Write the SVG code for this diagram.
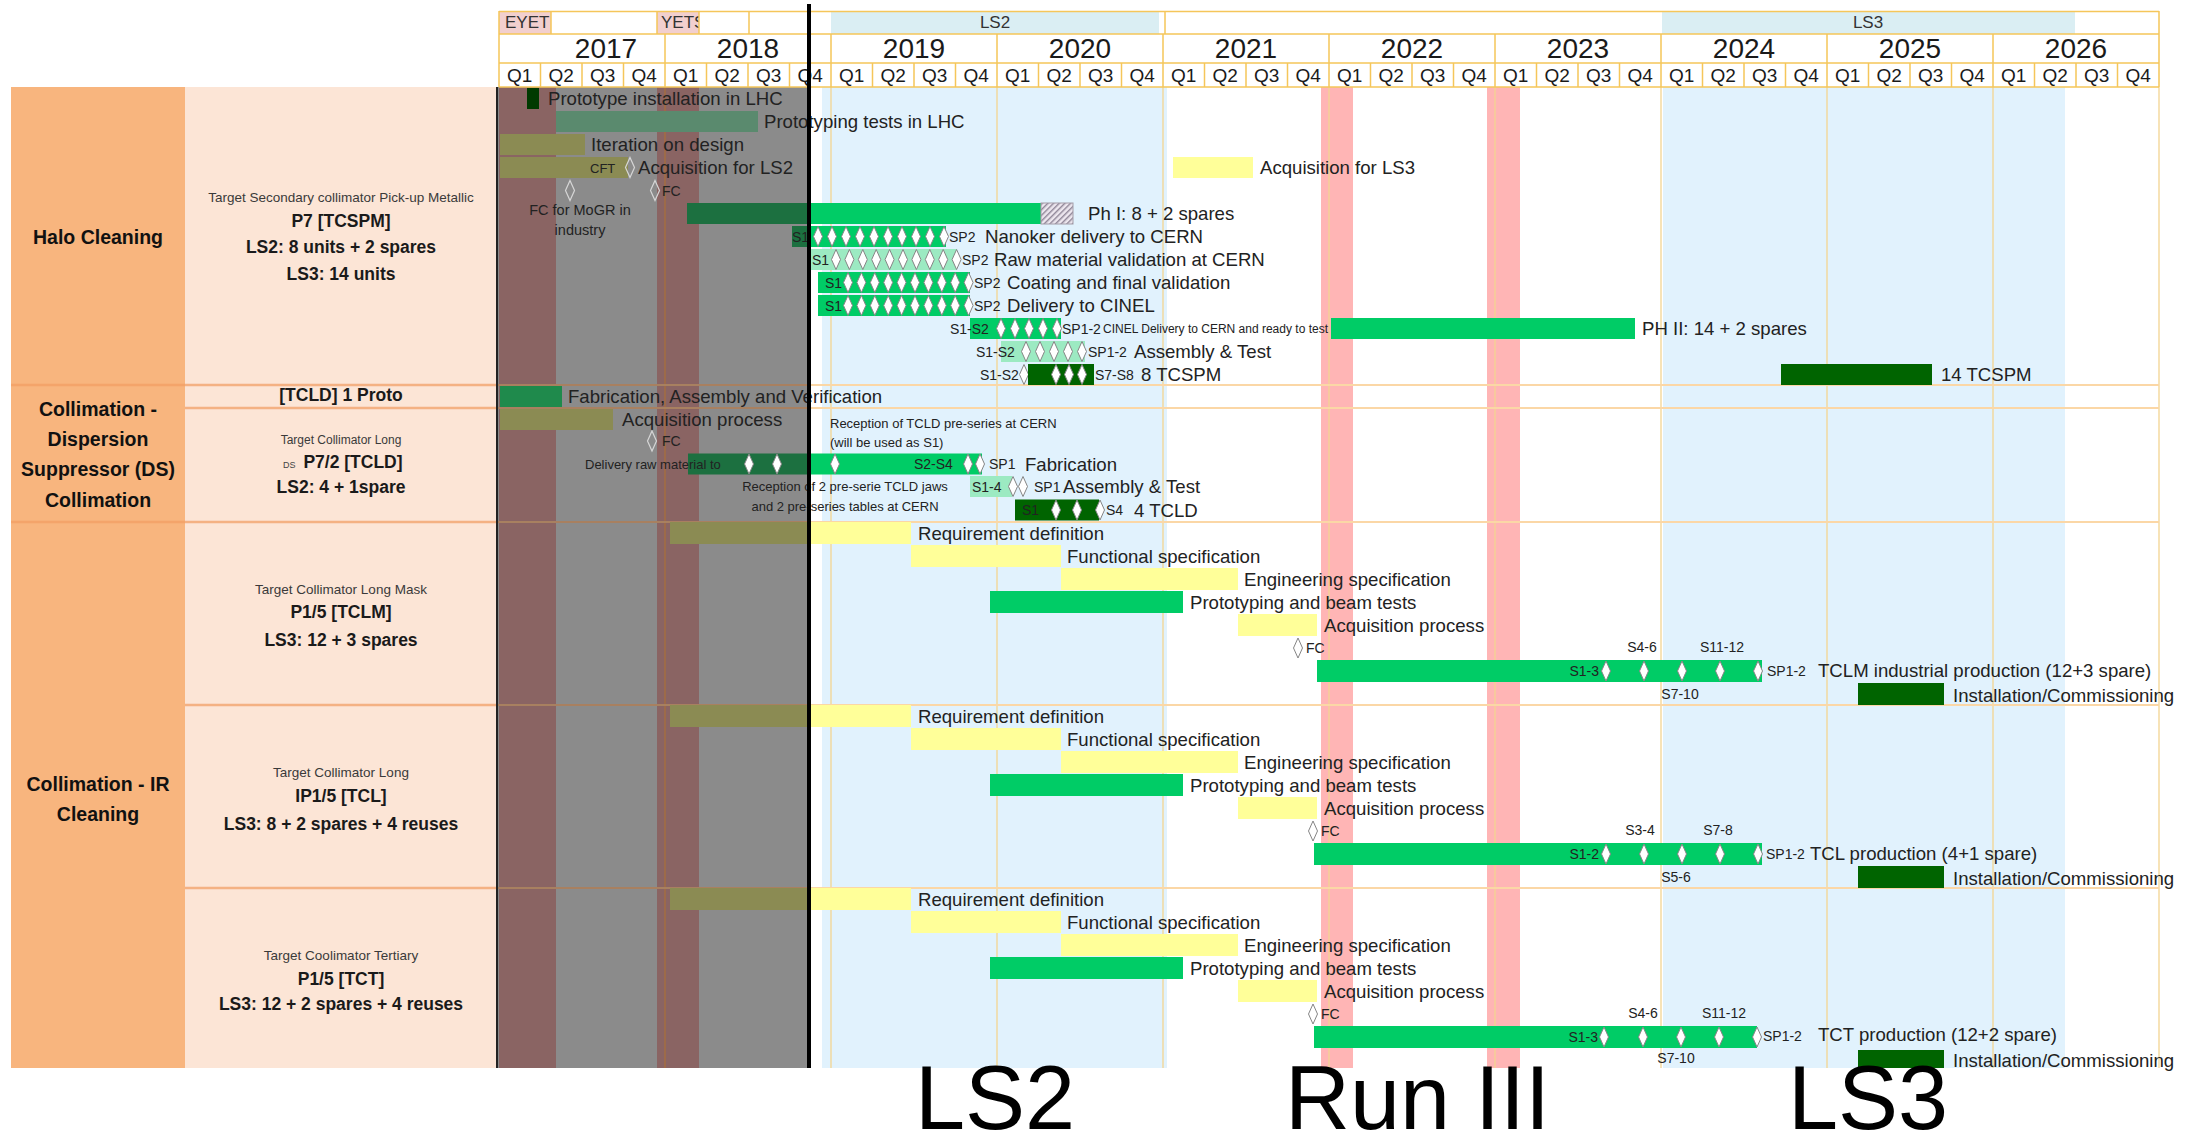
<svg xmlns="http://www.w3.org/2000/svg" width="2190" height="1148" viewBox="0 0 2190 1148">
<defs>
<style>
text{font-family:"Liberation Sans",Arial,sans-serif;fill:#222}
.l{font-size:18.6px;dominant-baseline:central}
.s{font-size:14px;dominant-baseline:central}
.se{font-size:14px;dominant-baseline:central;text-anchor:end}
.sm{font-size:14px;dominant-baseline:central;text-anchor:middle}
.xs{font-size:13px;dominant-baseline:central}
.xm{font-size:13px;dominant-baseline:central;text-anchor:middle}
.xt{font-size:12px;dominant-baseline:central}
.cat{font-size:19.5px;font-weight:bold;text-anchor:middle;dominant-baseline:central;fill:#111}
.sub{font-size:13.5px;text-anchor:middle;dominant-baseline:central;fill:#3a3a3a}
.bd{font-size:17.5px;font-weight:bold;text-anchor:middle;dominant-baseline:central;fill:#1a1a1a}
.yr{font-size:28px;text-anchor:middle;fill:#1a1a1a}
.q{font-size:19px;text-anchor:middle;fill:#1a1a1a}
.hd{font-size:17px;dominant-baseline:central;fill:#333}
.hm{font-size:17px;dominant-baseline:central;text-anchor:middle;fill:#333}
.big{font-family:"Liberation Sans",Arial,sans-serif;font-size:90px;fill:#000}
.yb{fill:#ffff99}.yd{fill:#8b8b53}
.gb{fill:#00cc66}.gd{fill:#1c7040}
.dg{fill:#006400}
.mg{fill:#9ceac2}
.dm{fill:#fff;stroke:#858585;stroke-width:1}
.dmg{fill:none;stroke:#d6d6d6;stroke-width:1.2}
.hl{fill:none;stroke:#f5c65a;stroke-width:1.5}
</style>
<path id="d" class="dm" d="M0,-10L4.5,0L0,10L-4.5,0Z"/>
<path id="dgr" class="dmg" d="M0,-10L4.5,0L0,10L-4.5,0Z"/>
<pattern id="hatch" width="4" height="4" patternUnits="userSpaceOnUse" patternTransform="rotate(45)">
<rect width="4" height="4" fill="#ece6ee"/><rect width="1.4" height="4" fill="#8e8496"/>
</pattern>
<clipPath id="cy"><rect x="657" y="11" width="42" height="23"/></clipPath>
</defs>

<rect x="0" y="0" width="2190" height="1148" fill="#fff"/>

<g id="background">
<rect x="11" y="87" width="174" height="981" fill="#f8b57e"/>
<rect x="185" y="87" width="311" height="981" fill="#fce5d6"/>
<rect x="496" y="87" width="313" height="981" fill="#8b8b8b"/>
<rect x="499" y="87" width="57" height="981" fill="#8a6463"/>
<rect x="657" y="87" width="42" height="981" fill="#8a6463"/>
<rect x="822" y="87" width="345" height="981" fill="#e1f2fd"/>
<rect x="1663" y="87" width="402" height="981" fill="#e1f2fd"/>
<rect x="1321" y="87" width="32" height="981" fill="#ffb5b5"/>
<rect x="1487" y="87" width="33" height="981" fill="#ffb5b5"/>
<path d="M831 87V1068M997 87V1068M1163 87V1068M1329 87V1068M1495 87V1068M1661 87V1068M1827 87V1068M1993 87V1068M2159 87V1068" stroke="#f3d592" stroke-width="1.3" fill="none"/>
<path d="M665 87V1068" stroke="#a86f3c" stroke-width="1.3"/>
<path d="M496 385H809M496 408H809M496 522H809M496 705H809M496 888H809" stroke="#a88060" stroke-width="2"/>
<path d="M809 385H2159M809 408H2159M809 522H2159M809 705H2159M809 888H2159" stroke="#fbd7a6" stroke-width="2"/>
<path d="M185 385H496M185 408H496M185 522H496M185 705H496M185 888H496" stroke="#f4b183" stroke-width="2.5"/>
<path d="M11 385H185M11 522H185" stroke="#f4a46a" stroke-width="2.5"/>
</g>

<g id="categories">
<g id="cat-halo"><text class="cat" x="98" y="237">Halo Cleaning</text></g>
<g id="cat-ds">
<text class="cat" x="98" y="409">Collimation -</text>
<text class="cat" x="98" y="439">Dispersion</text>
<text class="cat" x="98" y="469">Suppressor (DS)</text>
<text class="cat" x="98" y="500">Collimation</text>
</g>
<g id="cat-ir">
<text class="cat" x="98" y="784">Collimation - IR</text>
<text class="cat" x="98" y="814">Cleaning</text>
</g>
</g>

<g id="items">
<g id="item-tcspm">
<text class="sub" x="341" y="197">Target Secondary collimator Pick-up Metallic</text>
<text class="bd" x="341" y="221">P7 [TCSPM]</text>
<text class="bd" x="341" y="247">LS2: 8 units + 2 spares</text>
<text class="bd" x="341" y="274">LS3: 14 units</text>
</g>
<g id="item-tcld-proto"><text class="bd" x="341" y="395">[TCLD] 1 Proto</text></g>
<g id="item-tcld">
<text class="sub" x="341" y="440" style="font-size:12px">Target Collimator Long</text>
<text x="283" y="465" style="font-size:9px;dominant-baseline:central;fill:#444">DS</text>
<text class="bd" x="353" y="462">P7/2 [TCLD]</text>
<text class="bd" x="341" y="487">LS2: 4 + 1spare</text>
</g>
<g id="item-tclm">
<text class="sub" x="341" y="589">Target Collimator Long Mask</text>
<text class="bd" x="341" y="612">P1/5 [TCLM]</text>
<text class="bd" x="341" y="640">LS3: 12 + 3 spares</text>
</g>
<g id="item-tcl">
<text class="sub" x="341" y="772">Target Collimator Long</text>
<text class="bd" x="341" y="796">IP1/5 [TCL]</text>
<text class="bd" x="341" y="824">LS3: 8 + 2 spares + 4 reuses</text>
</g>
<g id="item-tct">
<text class="sub" x="341" y="955">Target Coolimator Tertiary</text>
<text class="bd" x="341" y="979">P1/5 [TCT]</text>
<text class="bd" x="341" y="1004">LS3: 12 + 2 spares + 4 reuses</text>
</g>
</g>

<g id="tasks-tcspm">
<rect x="527" y="88" width="12" height="21" fill="#003a00"/>
<text class="l" x="548" y="98.5">Prototype installation in LHC</text>
<rect x="556" y="111" width="202" height="21" fill="#5a8a6e"/>
<text class="l" x="764" y="121.5">Prototyping tests in LHC</text>
<rect x="500" y="134" width="85" height="21" class="yd"/>
<text class="l" x="591" y="144.5">Iteration on design</text>
<rect x="500" y="157" width="128" height="21" class="yd"/>
<text class="xs" x="590" y="168">CFT</text>
<use href="#dgr" x="630" y="167.5"/>
<text class="l" x="638" y="167.5">Acquisition for LS2</text>
<rect x="1173" y="157" width="80" height="21" class="yb"/>
<text class="l" x="1260" y="167.5">Acquisition for LS3</text>
<use href="#dgr" x="570" y="190.5"/>
<use href="#dgr" x="655" y="190.5"/>
<text class="s" x="662" y="190.5">FC</text>
<text class="sm" x="580" y="210" style="font-size:14.5px">FC for MoGR in</text>
<text class="sm" x="580" y="230" style="font-size:14.5px">industry</text>
<rect x="687" y="203" width="122" height="21" class="gd"/>
<rect x="809" y="203" width="232" height="21" class="gb"/>
<rect x="1041" y="203" width="32" height="21" fill="url(#hatch)" stroke="#a39ca8"/>
<text class="l" x="1088" y="213.5">Ph I: 8 + 2 spares</text>

<rect x="792" y="226" width="17" height="21" class="gd"/>
<rect x="809" y="226" width="137" height="21" class="gb"/>
<text class="s" x="792" y="236.5">S1</text>
<use href="#d" x="818" y="236.5"/><use href="#d" x="832" y="236.5"/><use href="#d" x="846" y="236.5"/><use href="#d" x="860" y="236.5"/><use href="#d" x="874" y="236.5"/><use href="#d" x="888" y="236.5"/><use href="#d" x="902" y="236.5"/><use href="#d" x="916" y="236.5"/><use href="#d" x="930" y="236.5"/><use href="#d" x="944" y="236.5"/>
<text class="s" x="949" y="236.5">SP2</text>
<text class="l" x="985" y="236.5">Nanoker delivery to CERN</text>

<rect x="811" y="249" width="146" height="21" class="mg"/>
<text class="s" x="812" y="259.5">S1</text>
<use href="#d" x="836" y="259.5"/><use href="#d" x="849.4" y="259.5"/><use href="#d" x="862.8" y="259.5"/><use href="#d" x="876.2" y="259.5"/><use href="#d" x="889.6" y="259.5"/><use href="#d" x="903" y="259.5"/><use href="#d" x="916.4" y="259.5"/><use href="#d" x="929.8" y="259.5"/><use href="#d" x="943.2" y="259.5"/><use href="#d" x="956.6" y="259.5"/>
<text class="s" x="962" y="259.5">SP2</text>
<text class="l" x="994" y="259.5">Raw material validation at CERN</text>

<rect x="818" y="272" width="152" height="21" class="gb"/>
<text class="s" x="825" y="282.5">S1</text>
<use href="#d" x="848" y="282.5"/><use href="#d" x="861.4" y="282.5"/><use href="#d" x="874.8" y="282.5"/><use href="#d" x="888.2" y="282.5"/><use href="#d" x="901.6" y="282.5"/><use href="#d" x="915" y="282.5"/><use href="#d" x="928.4" y="282.5"/><use href="#d" x="941.8" y="282.5"/><use href="#d" x="955.2" y="282.5"/><use href="#d" x="968.6" y="282.5"/>
<text class="s" x="974" y="282.5">SP2</text>
<text class="l" x="1007" y="282.5">Coating and final validation</text>

<rect x="818" y="295" width="152" height="21" class="gb"/>
<text class="s" x="825" y="305.5">S1</text>
<use href="#d" x="848" y="305.5"/><use href="#d" x="861.4" y="305.5"/><use href="#d" x="874.8" y="305.5"/><use href="#d" x="888.2" y="305.5"/><use href="#d" x="901.6" y="305.5"/><use href="#d" x="915" y="305.5"/><use href="#d" x="928.4" y="305.5"/><use href="#d" x="941.8" y="305.5"/><use href="#d" x="955.2" y="305.5"/><use href="#d" x="968.6" y="305.5"/>
<text class="s" x="974" y="305.5">SP2</text>
<text class="l" x="1007" y="305.5">Delivery to CINEL</text>

<rect x="970" y="318" width="91" height="21" class="gb"/>
<text class="s" x="950" y="328.5">S1-S2</text>
<use href="#d" x="1001" y="328.5"/><use href="#d" x="1015" y="328.5"/><use href="#d" x="1029" y="328.5"/><use href="#d" x="1043" y="328.5"/><use href="#d" x="1057" y="328.5"/>
<text class="s" x="1062" y="328.5">SP1-2</text>
<text class="xt" x="1103" y="328.5">CINEL Delivery to CERN and ready to test</text>
<rect x="1331" y="318" width="304" height="21" class="gb"/>
<text class="l" x="1642" y="328.5">PH II: 14 + 2 spares</text>

<rect x="1001" y="341" width="84" height="21" class="mg"/>
<text class="s" x="976" y="351.5">S1-S2</text>
<use href="#d" x="1026" y="351.5"/><use href="#d" x="1040" y="351.5"/><use href="#d" x="1054" y="351.5"/><use href="#d" x="1068" y="351.5"/><use href="#d" x="1082" y="351.5"/>
<text class="s" x="1088" y="351.5">SP1-2</text>
<text class="l" x="1134" y="351.5">Assembly &amp; Test</text>

<text class="s" x="980" y="374.5">S1-S2</text>
<use href="#d" x="1024" y="374.5"/>
<rect x="1028" y="364" width="66" height="21" class="dg"/>
<use href="#d" x="1056" y="374.5"/><use href="#d" x="1069" y="374.5"/><use href="#d" x="1082" y="374.5"/>
<text class="s" x="1095" y="374.5">S7-S8</text>
<text class="l" x="1141" y="374.5">8 TCSPM</text>
<rect x="1781" y="364" width="151" height="21" class="dg"/>
<text class="l" x="1941" y="374.5">14 TCSPM</text>
</g>

<g id="tasks-tcld-proto">
<rect x="500" y="386" width="62" height="21" fill="#1f8a4c"/>
<text class="l" x="568" y="396.5">Fabrication, Assembly and Verification</text>
</g>

<g id="tasks-tcld">
<rect x="500" y="409" width="113" height="21" class="yd"/>
<text class="l" x="622" y="419">Acquisition process</text>
<use href="#dgr" x="652" y="441"/>
<text class="s" x="662" y="441">FC</text>
<text class="xs" x="830" y="423">Reception of TCLD pre-series at CERN</text>
<text class="xs" x="830" y="442">(will be used as S1)</text>
<rect x="688" y="453.5" width="121" height="21" class="gd"/>
<rect x="809" y="453.5" width="173" height="21" class="gb"/>
<text class="xs" x="585" y="464">Delivery raw material to</text>
<use href="#d" x="749" y="464"/><use href="#d" x="777" y="464"/><use href="#d" x="835" y="464"/><use href="#d" x="968" y="464"/><use href="#d" x="980" y="464"/>
<text class="s" x="914" y="464">S2-S4</text>
<text class="s" x="989" y="464">SP1</text>
<text class="l" x="1025" y="464">Fabrication</text>
<text class="xm" x="845" y="486">Reception of 2 pre-serie TCLD jaws</text>
<text class="xm" x="845" y="506">and 2 pre-series tables at CERN</text>
<rect x="970" y="476" width="42" height="21" class="mg"/>
<text class="s" x="972" y="486.5">S1-4</text>
<use href="#d" x="1013" y="486.5"/><use href="#d" x="1023" y="486.5"/>
<text class="s" x="1034" y="486.5">SP1</text>
<text class="l" x="1063" y="486.5">Assembly &amp; Test</text>
<rect x="1015" y="499.5" width="84" height="21" class="dg"/>
<text class="s" x="1022" y="510">S1</text>
<use href="#d" x="1056" y="510"/><use href="#d" x="1077" y="510"/><use href="#d" x="1100" y="510"/>
<text class="s" x="1106" y="510">S4</text>
<text class="l" x="1134" y="510">4 TCLD</text>
</g>

<g id="tasks-tclm">
<rect x="670" y="522" width="139" height="22" class="yd"/>
<rect x="809" y="522" width="102" height="22" class="yb"/>
<text class="l" x="918" y="533">Requirement definition</text>
<rect x="911" y="545" width="150" height="22" class="yb"/>
<text class="l" x="1067" y="556">Functional specification</text>
<rect x="1061" y="568" width="177" height="22" class="yb"/>
<text class="l" x="1244" y="579">Engineering specification</text>
<rect x="990" y="591" width="193" height="22" class="gb"/>
<text class="l" x="1190" y="602">Prototyping and beam tests</text>
<rect x="1238" y="614" width="79" height="22" class="yb"/>
<text class="l" x="1324" y="625">Acquisition process</text>
<use href="#d" x="1298" y="648"/>
<text class="s" x="1306" y="648">FC</text>
<text class="sm" x="1642" y="647">S4-6</text>
<text class="sm" x="1722" y="647">S11-12</text>
<rect x="1317" y="660" width="445" height="22" class="gb"/>
<text class="se" x="1599" y="671">S1-3</text>
<use href="#d" x="1606" y="671"/><use href="#d" x="1644" y="671"/><use href="#d" x="1682" y="671"/><use href="#d" x="1720" y="671"/><use href="#d" x="1758" y="671"/>
<text class="s" x="1767" y="671">SP1-2</text>
<text class="l" x="1818" y="670">TCLM industrial production (12+3 spare)</text>
<text class="sm" x="1680" y="694">S7-10</text>
<rect x="1858" y="683" width="86" height="22" class="dg"/>
<text class="l" x="1953" y="695">Installation/Commissioning</text>
</g>

<g id="tasks-tcl">
<rect x="670" y="705" width="139" height="22" class="yd"/>
<rect x="809" y="705" width="102" height="22" class="yb"/>
<text class="l" x="918" y="716">Requirement definition</text>
<rect x="911" y="728" width="150" height="22" class="yb"/>
<text class="l" x="1067" y="739">Functional specification</text>
<rect x="1061" y="751" width="177" height="22" class="yb"/>
<text class="l" x="1244" y="762">Engineering specification</text>
<rect x="990" y="774" width="193" height="22" class="gb"/>
<text class="l" x="1190" y="785">Prototyping and beam tests</text>
<rect x="1238" y="797" width="79" height="22" class="yb"/>
<text class="l" x="1324" y="808">Acquisition process</text>
<use href="#d" x="1313" y="831"/>
<text class="s" x="1321" y="831">FC</text>
<text class="sm" x="1640" y="830">S3-4</text>
<text class="sm" x="1718" y="830">S7-8</text>
<rect x="1314" y="843" width="448" height="22" class="gb"/>
<text class="se" x="1599" y="854">S1-2</text>
<use href="#d" x="1606" y="854"/><use href="#d" x="1644" y="854"/><use href="#d" x="1682" y="854"/><use href="#d" x="1720" y="854"/><use href="#d" x="1758" y="854"/>
<text class="s" x="1766" y="854">SP1-2</text>
<text class="l" x="1810" y="853">TCL production (4+1 spare)</text>
<text class="sm" x="1676" y="877">S5-6</text>
<rect x="1858" y="866" width="86" height="22" class="dg"/>
<text class="l" x="1953" y="878">Installation/Commissioning</text>
</g>

<g id="tasks-tct">
<rect x="670" y="888" width="139" height="22" class="yd"/>
<rect x="809" y="888" width="102" height="22" class="yb"/>
<text class="l" x="918" y="899">Requirement definition</text>
<rect x="911" y="911" width="150" height="22" class="yb"/>
<text class="l" x="1067" y="922">Functional specification</text>
<rect x="1061" y="934" width="177" height="22" class="yb"/>
<text class="l" x="1244" y="945">Engineering specification</text>
<rect x="990" y="957" width="193" height="22" class="gb"/>
<text class="l" x="1190" y="968">Prototyping and beam tests</text>
<rect x="1238" y="980" width="79" height="22" class="yb"/>
<text class="l" x="1324" y="991">Acquisition process</text>
<use href="#d" x="1313" y="1014"/>
<text class="s" x="1321" y="1014">FC</text>
<text class="sm" x="1643" y="1013">S4-6</text>
<text class="sm" x="1724" y="1013">S11-12</text>
<rect x="1314" y="1026" width="443" height="22" class="gb"/>
<text class="se" x="1598" y="1037">S1-3</text>
<use href="#d" x="1604" y="1037"/><use href="#d" x="1643" y="1037"/><use href="#d" x="1681" y="1037"/><use href="#d" x="1719" y="1037"/><use href="#d" x="1757" y="1037"/>
<text class="s" x="1763" y="1036">SP1-2</text>
<text class="l" x="1818" y="1034">TCT production (12+2 spare)</text>
<text class="sm" x="1676" y="1058">S7-10</text>
<rect x="1858" y="1050" width="86" height="18" class="dg"/>
<text class="l" x="1953" y="1060">Installation/Commissioning</text>
</g>

<g id="connectors"></g>

<g id="header">
<rect x="499" y="11" width="1660" height="76" fill="#fff"/>
<rect x="499" y="11" width="52" height="23" fill="#f2cfce"/>
<rect x="657" y="11" width="42" height="23" fill="#f2cfce"/>
<rect x="831" y="11" width="328" height="23" fill="#daeef3"/>
<rect x="1662" y="11" width="413" height="23" fill="#daeef3"/>
<text class="hd" x="505" y="22.5">EYET</text>
<text class="hd" x="661" y="22.5" clip-path="url(#cy)">YETS</text>
<text class="hm" x="995" y="22.5">LS2</text>
<text class="hm" x="1868" y="22.5">LS3</text>
<path class="hl" d="M499 11.5H2159M499 34H2159M499 63H2159M499 87H2159M499 11V87M2159 11V87M551 11V34M657 11V34M699 11V34M749 11V34M1165 11V34"/>
<path class="hl" d="M665 34V87M831 34V87M997 34V87M1163 34V87M1329 34V87M1495 34V87M1661 34V87M1827 34V87M1993 34V87"/>
<path class="hl" d="M540.5 63V87M582 63V87M623.5 63V87M706.5 63V87M748 63V87M789.5 63V87M872.5 63V87M914 63V87M955.5 63V87M1038.5 63V87M1080 63V87M1121.5 63V87M1204.5 63V87M1246 63V87M1287.5 63V87M1370.5 63V87M1412 63V87M1453.5 63V87M1536.5 63V87M1578 63V87M1619.5 63V87M1702.5 63V87M1744 63V87M1785.5 63V87M1868.5 63V87M1910 63V87M1951.5 63V87M2034.5 63V87M2076 63V87M2117.5 63V87"/>
<text class="yr" x="606" y="58">2017</text>
<text class="yr" x="748" y="58">2018</text>
<text class="yr" x="914" y="58">2019</text>
<text class="yr" x="1080" y="58">2020</text>
<text class="yr" x="1246" y="58">2021</text>
<text class="yr" x="1412" y="58">2022</text>
<text class="yr" x="1578" y="58">2023</text>
<text class="yr" x="1744" y="58">2024</text>
<text class="yr" x="1910" y="58">2025</text>
<text class="yr" x="2076" y="58">2026</text>
<text class="q" x="519.75" y="82">Q1</text><text class="q" x="561.25" y="82">Q2</text><text class="q" x="602.75" y="82">Q3</text><text class="q" x="644.25" y="82">Q4</text>
<text class="q" x="685.75" y="82">Q1</text><text class="q" x="727.25" y="82">Q2</text><text class="q" x="768.75" y="82">Q3</text><text class="q" x="810.25" y="82">Q4</text>
<text class="q" x="851.75" y="82">Q1</text><text class="q" x="893.25" y="82">Q2</text><text class="q" x="934.75" y="82">Q3</text><text class="q" x="976.25" y="82">Q4</text>
<text class="q" x="1017.75" y="82">Q1</text><text class="q" x="1059.25" y="82">Q2</text><text class="q" x="1100.75" y="82">Q3</text><text class="q" x="1142.25" y="82">Q4</text>
<text class="q" x="1183.75" y="82">Q1</text><text class="q" x="1225.25" y="82">Q2</text><text class="q" x="1266.75" y="82">Q3</text><text class="q" x="1308.25" y="82">Q4</text>
<text class="q" x="1349.75" y="82">Q1</text><text class="q" x="1391.25" y="82">Q2</text><text class="q" x="1432.75" y="82">Q3</text><text class="q" x="1474.25" y="82">Q4</text>
<text class="q" x="1515.75" y="82">Q1</text><text class="q" x="1557.25" y="82">Q2</text><text class="q" x="1598.75" y="82">Q3</text><text class="q" x="1640.25" y="82">Q4</text>
<text class="q" x="1681.75" y="82">Q1</text><text class="q" x="1723.25" y="82">Q2</text><text class="q" x="1764.75" y="82">Q3</text><text class="q" x="1806.25" y="82">Q4</text>
<text class="q" x="1847.75" y="82">Q1</text><text class="q" x="1889.25" y="82">Q2</text><text class="q" x="1930.75" y="82">Q3</text><text class="q" x="1972.25" y="82">Q4</text>
<text class="q" x="2013.75" y="82">Q1</text><text class="q" x="2055.25" y="82">Q2</text><text class="q" x="2096.75" y="82">Q3</text><text class="q" x="2138.25" y="82">Q4</text>
</g>

<g id="today-lines">
<path d="M497 87V1068" stroke="#222" stroke-width="2"/>
<path d="M809 4V1068" stroke="#000" stroke-width="4"/>
</g>

<g id="periods">
<text class="big" x="915" y="1129">LS2</text>
<text class="big" x="1285" y="1129">Run III</text>
<text class="big" x="1788" y="1129">LS3</text>
</g>
</svg>
